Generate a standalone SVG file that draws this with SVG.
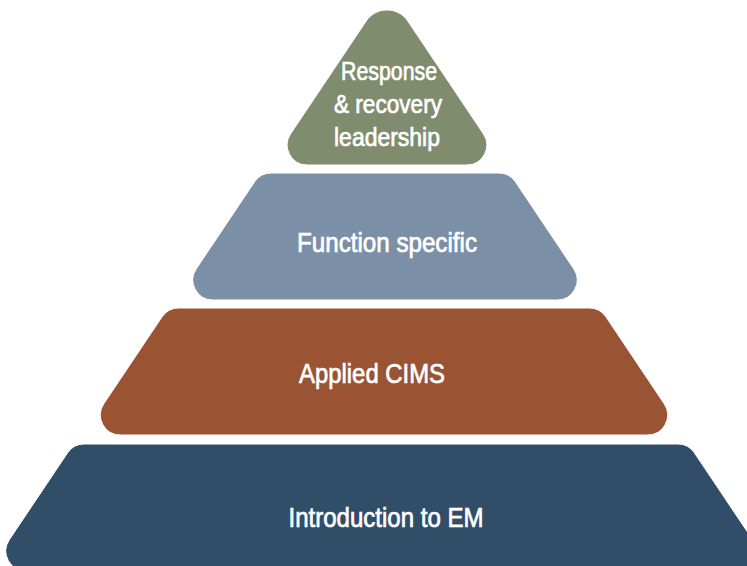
<svg xmlns="http://www.w3.org/2000/svg" width="747" height="566" viewBox="0 0 747 566">
  <style>
    .tier { stroke: #ffffff; stroke-width: 1; }
    .lbl { fill: #ffffff; stroke: #ffffff; stroke-width: 0.7; font-family: "Liberation Sans Narrow", "Liberation Sans", Arial, sans-serif; font-size: 28px; }
    .lbl-sm { font-size: 26.5px; }
  </style>
  <rect width="747" height="566" fill="#ffffff"/>

  <!-- Pyramid tiers, top to bottom -->
  <g id="tier-leadership">
    <path class="tier" fill="#7f8c6e" d="M 366.24 20.99 A 25 25 0 0 1 407.76 20.99 L 483.39 133.87 A 20 20 0 0 1 466.78 165 H 307.22 A 20 20 0 0 1 290.61 133.87 Z"/>
    <text class="lbl lbl-sm" x="341" y="80" textLength="96" lengthAdjust="spacingAndGlyphs">Response</text>
    <text class="lbl lbl-sm" x="334" y="113" textLength="108" lengthAdjust="spacingAndGlyphs">&amp; recovery</text>
    <text class="lbl lbl-sm" x="334" y="146" textLength="106" lengthAdjust="spacingAndGlyphs">leadership</text>
  </g>

  <g id="tier-function">
    <path class="tier" fill="#7b8fa6" d="M 271.17 173 H 498.83 A 20 20 0 0 1 515.44 181.87 L 573.74 268.87 A 20 20 0 0 1 557.13 300 H 212.87 A 20 20 0 0 1 196.26 268.87 L 254.56 181.87 A 20 20 0 0 1 271.17 173 Z"/>
    <text class="lbl" x="297" y="252" textLength="180" lengthAdjust="spacingAndGlyphs">Function specific</text>
  </g>

  <g id="tier-cims">
    <path class="tier" fill="#9a5434" d="M 178.67 308 H 589.33 A 20 20 0 0 1 605.94 316.87 L 664.24 403.87 A 20 20 0 0 1 647.63 435 H 120.37 A 20 20 0 0 1 103.76 403.87 L 162.06 316.87 A 20 20 0 0 1 178.67 308 Z"/>
    <text class="lbl" x="299" y="382.5" textLength="146" lengthAdjust="spacingAndGlyphs">Applied CIMS</text>
  </g>

  <g id="tier-intro">
    <path class="tier" fill="#304e68" d="M 84.17 444 H 677.83 A 20 20 0 0 1 694.44 452.87 L 752.74 539.87 A 20 20 0 0 1 736.13 571 H 25.87 A 20 20 0 0 1 9.26 539.87 L 67.56 452.87 A 20 20 0 0 1 84.17 444 Z"/>
    <text class="lbl" x="288.5" y="527" textLength="195" lengthAdjust="spacingAndGlyphs">Introduction to EM</text>
  </g>
</svg>
